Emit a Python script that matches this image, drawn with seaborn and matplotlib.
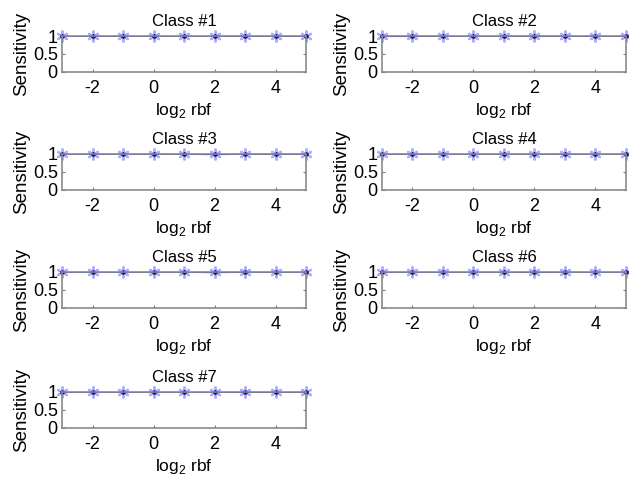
import numpy as np
import pandas as pd
import matplotlib
matplotlib.use("Agg")
import matplotlib.pyplot as plt
import seaborn as sns

# ---------------------------------------------------------------------------
# Data
# ---------------------------------------------------------------------------
log2_rbf = [-3, -2, -1, 0, 1, 2, 3, 4, 5]
class_names = ["Class #1", "Class #2", "Class #3", "Class #4",
               "Class #5", "Class #6", "Class #7"]
sens_c1 = [1.0, 1.0, 1.0, 1.0, 1.0, 1.0, 0.997, 1.0, 0.997]
sens_c2 = [0.995, 0.993, 1.0, 1.0, 1.0, 0.993, 1.0, 1.0, 1.0]
sens_c3 = [1.0, 1.0, 1.0, 1.0, 1.0, 0.99, 1.0, 0.997, 1.0]
sens_c4 = [1.0, 0.997, 1.0, 1.0, 1.0, 1.0, 1.0, 1.0, 1.0]
sens_c5 = [1.0, 1.0, 1.0, 1.0, 1.0, 0.99, 1.0, 1.0, 1.0]
sens_c6 = [1.0, 1.0, 1.0, 1.0, 1.0, 0.993, 1.0, 1.0, 1.0]
sens_c7 = [1.0, 1.0, 1.0, 1.0, 1.0, 1.0, 0.995, 0.997, 0.997]
all_sens = [sens_c1, sens_c2, sens_c3, sens_c4, sens_c5, sens_c6, sens_c7]

sns.set_style("white")
plt.rcParams["font.family"] = ["Liberation Sans", "DejaVu Sans"]
plt.rcParams["mathtext.fontset"] = "custom"
plt.rcParams["mathtext.rm"] = "Liberation Sans"
plt.rcParams["axes.unicode_minus"] = False
plt.rcParams["text.color"] = "black"
plt.rcParams["axes.labelcolor"] = "black"
plt.rcParams["xtick.labelcolor"] = "black"
plt.rcParams["ytick.labelcolor"] = "black"

fig = plt.figure(figsize=(6.29, 4.79), dpi=100)
W, H = 629, 479
col_left = [62, 382]
ax_w = 244
row_top = [36, 154, 272, 392]
ax_h = 36

for i, (name, vals) in enumerate(zip(class_names, all_sens)):
    r, c = divmod(i, 2)
    ax = fig.add_axes([col_left[c] / W, 1 - (row_top[r] + ax_h) / H,
                       ax_w / W, ax_h / H])
    df = pd.DataFrame({"x": log2_rbf, "y": vals})
    sns.lineplot(data=df, x="x", y="y", ax=ax, color="#1a1ad0", lw=1.2)
    ax.plot(df["x"], df["y"], ls="none", marker=(6, 2, 0), ms=8.5,
            markeredgecolor="#7a7aff", markeredgewidth=1.6, alpha=0.6,
            clip_on=False)
    ax.plot(df["x"], df["y"], ls="none", marker=(6, 2, 0), ms=3,
            markeredgecolor="#101080", markeredgewidth=1.0, clip_on=False)
    ax.set_xlim(-3, 5)
    ax.set_ylim(0, 1)
    ax.set_xticks([-2, 0, 2, 4])
    ax.set_yticks([0, 0.5, 1])
    ax.set_yticklabels(["0", "0.5", "1"])
    ax.tick_params(direction="in", length=2, color="#777777",
                   labelsize=13, top=True, right=True,
                   bottom=True, left=True)
    ax.tick_params(axis="x", pad=6)
    ax.tick_params(axis="y", pad=3)
    for s in ax.spines.values():
        s.set_color("#8a8a8a")
        s.set_linewidth(1.2)
    ax.set_title(name, fontsize=12, pad=7)
    ax.set_xlabel(r"log$_2$ rbf", fontsize=12.5, labelpad=3)
    ax.set_ylabel("Sensitivity", fontsize=13.5, labelpad=2)

fig.savefig("out.png", dpi=100, facecolor="white")
plt.close(fig)
